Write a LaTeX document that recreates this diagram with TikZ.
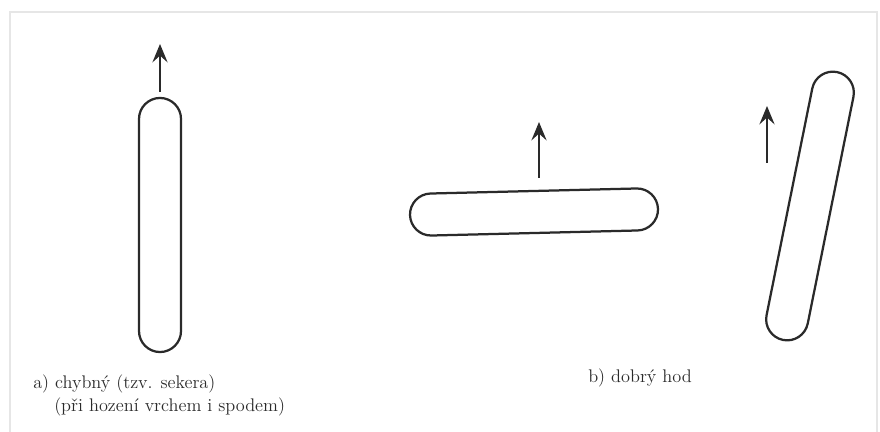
\documentclass[tikz,border=0pt]{standalone}
\usepackage{tikz}
\usetikzlibrary{arrows.meta,positioning,shapes.misc}
\usepackage{xcolor}
\definecolor{inkgray}{HTML}{2A2A2A}
\definecolor{framegray}{HTML}{E6E6E6}
\tikzset{
  stick/.style   = {draw=inkgray, line width=1.6pt, rounded rectangle,
                    minimum height=1.05cm, inner sep=0pt},
  throwdir/.style = {-{Stealth[length=4.6mm,width=3.8mm,inset=1.7mm]},
                    line width=1.5pt, draw=inkgray},
  caption/.style = {anchor=base west, inner sep=0pt, text=inkgray,
                    font=\fontsize{13}{15}\selectfont},
}
\begin{document}
\begin{tikzpicture}[x=0.025cm,y=-0.025cm]
\useasboundingbox (0,0) rectangle (880,432);
\draw[framegray,line width=0.8pt] (10,432) -- (10,12) -- (877,12) -- (877,432);
% a) faulty throw
\node[stick,rotate=90,minimum width=6.35cm] (stickA) at (160,225) {};
\coordinate (tailA) at (160,92);
\coordinate (tipA) at (160,44);
\draw[throwdir] (tailA) -- (tipA);
% b) good throw, flat and tilted
\node[stick,rotate=1.4,minimum width=6.2cm] (stickB) at (534,212) {};
\coordinate (tailB) at (539,178);
\coordinate (tipB) at (539,122);
\draw[throwdir] (tailB) -- (tipB);
\node[stick,rotate=78.6,minimum width=6.83cm] (stickC) at (810,206) {};
\coordinate (tailC) at (767,163);
\coordinate (tipC) at (767,106);
\draw[throwdir] (tailC) -- (tipC);
% captions
\node[caption] (capA) at (33,388) {a) chybný (tzv. sekera)};
\node[caption] (capAA) at (54,411) {(při hození vrchem i spodem)};
\node[caption] (capB) at (588,382) {b) dobrý hod};
\end{tikzpicture}
\end{document}
